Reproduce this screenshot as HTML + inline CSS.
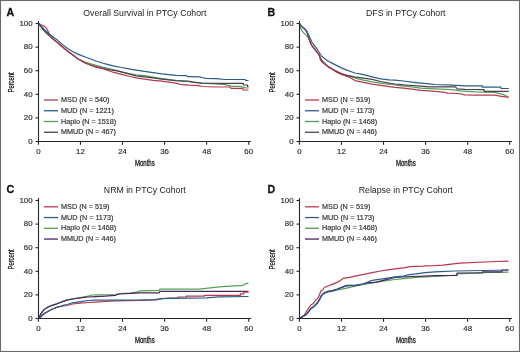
<!DOCTYPE html>
<html><head><meta charset="utf-8"><style>
html,body{margin:0;padding:0;background:#fff;}
svg{display:block;font-family:"Liberation Sans", sans-serif;will-change:transform;}
</style></head><body>
<svg width="520" height="352" viewBox="0 0 520 352">
<rect x="0" y="0" width="520" height="352" fill="#fff"/>
<text x="6.5" y="15.6" font-size="10.6" font-weight="bold" fill="#111" stroke="#111" stroke-width="0.3">A</text>
<text x="144.8" y="15.8" font-size="8.72" text-anchor="middle" fill="#222">Overall Survival in PTCy Cohort</text>
<path d="M38.40,23.40L43.80,30.40L47.20,33.80L50.60,36.60L54.00,39.60L57.40,42.40L60.30,45.00L64.50,48.60L68.80,52.00L73.00,55.00L77.30,58.20L81.60,60.50L85.80,62.20L90.00,63.60L96.00,65.40L104.50,67.50L113.00,69.70L121.60,71.80L130.10,73.90L136.00,74.80L144.50,75.70L157.30,77.80L165.90,79.10L176.00,80.50L188.80,81.40L193.00,82.20L201.60,83.10L216.00,83.90L225.00,84.60L232.00,86.30L240.00,86.30L246.00,88.00L248.50,88.00" fill="none" stroke="#52a052" stroke-width="1.2" stroke-linejoin="round"/>
<path d="M38.40,23.40L43.80,30.40L47.20,33.80L50.60,36.60L54.00,39.60L57.40,42.40L60.30,45.00L64.50,48.60L68.80,52.00L73.00,55.00L77.30,58.40L81.60,61.00L85.80,63.20L90.00,64.80L96.00,66.70L108.80,69.70L117.30,70.90L125.90,73.10L136.00,75.80L148.80,77.40L161.60,79.10L176.00,80.60L188.80,81.40L193.00,82.20L201.60,83.10L216.00,83.30L243.40,83.30L243.40,85.00L247.50,85.00L247.50,86.70L248.50,86.70" fill="none" stroke="#4a4052" stroke-width="1.2" stroke-linejoin="round"/>
<path d="M38.40,23.40L41.10,24.70L43.80,26.10L45.90,27.50L47.20,29.50L48.20,31.50L50.60,37.00L54.00,40.10L57.40,42.80L60.30,45.20L64.50,48.80L68.80,52.20L73.00,55.20L77.30,58.60L81.60,61.10L85.80,63.30L90.00,65.00L96.00,67.10L104.50,69.20L113.00,72.20L121.60,74.30L130.10,76.50L136.00,77.80L144.50,79.10L153.10,80.30L161.60,81.20L176.00,83.20L180.30,84.30L188.80,85.20L199.00,85.60L201.60,86.50L216.00,87.00L230.00,87.00L231.00,88.40L243.00,88.40L243.00,90.00L248.50,90.00" fill="none" stroke="#b5384f" stroke-width="1.2" stroke-linejoin="round"/>
<path d="M38.40,23.40L43.80,28.80L47.20,32.20L50.60,35.00L54.00,37.70L57.40,40.10L60.30,42.60L64.50,46.20L68.80,49.20L73.00,51.80L77.30,53.90L81.60,55.60L85.80,57.30L90.00,58.80L96.00,61.00L104.50,63.70L113.00,65.80L121.60,67.50L130.10,69.20L136.00,70.10L144.50,71.40L153.10,72.70L161.60,73.90L176.00,75.40L186.20,75.60L188.00,76.70L199.90,76.90L201.60,77.50L205.90,78.40L216.00,78.60L225.00,79.50L245.40,79.50L245.40,80.50L248.50,80.50" fill="none" stroke="#2b5c88" stroke-width="1.2" stroke-linejoin="round"/>
<path d="M38.5,20.9V141.5H251" stroke="#262626" stroke-width="1.1" fill="none"/>
<path d="M35.5,141.50H38.5" stroke="#262626" stroke-width="1.1" fill="none"/>
<text transform="translate(32.6,143.70) scale(1.08,1)" font-size="7.3" text-anchor="end" fill="#333" stroke="#333" stroke-width="0.18">0</text>
<path d="M35.5,117.90H38.5" stroke="#262626" stroke-width="1.1" fill="none"/>
<text transform="translate(32.6,120.10) scale(1.08,1)" font-size="7.3" text-anchor="end" fill="#333" stroke="#333" stroke-width="0.18">20</text>
<path d="M35.5,94.30H38.5" stroke="#262626" stroke-width="1.1" fill="none"/>
<text transform="translate(32.6,96.50) scale(1.08,1)" font-size="7.3" text-anchor="end" fill="#333" stroke="#333" stroke-width="0.18">40</text>
<path d="M35.5,70.70H38.5" stroke="#262626" stroke-width="1.1" fill="none"/>
<text transform="translate(32.6,72.90) scale(1.08,1)" font-size="7.3" text-anchor="end" fill="#333" stroke="#333" stroke-width="0.18">60</text>
<path d="M35.5,47.10H38.5" stroke="#262626" stroke-width="1.1" fill="none"/>
<text transform="translate(32.6,49.30) scale(1.08,1)" font-size="7.3" text-anchor="end" fill="#333" stroke="#333" stroke-width="0.18">80</text>
<path d="M35.5,23.50H38.5" stroke="#262626" stroke-width="1.1" fill="none"/>
<text transform="translate(32.6,25.70) scale(1.08,1)" font-size="7.3" text-anchor="end" fill="#333" stroke="#333" stroke-width="0.18">100</text>
<path d="M38.40,141.5V144.8" stroke="#262626" stroke-width="1.1" fill="none"/>
<text transform="translate(38.40,154.1) scale(1.08,1)" font-size="7.3" text-anchor="middle" fill="#333" stroke="#333" stroke-width="0.18">0</text>
<path d="M80.46,141.5V144.8" stroke="#262626" stroke-width="1.1" fill="none"/>
<text transform="translate(80.46,154.1) scale(1.08,1)" font-size="7.3" text-anchor="middle" fill="#333" stroke="#333" stroke-width="0.18">12</text>
<path d="M122.52,141.5V144.8" stroke="#262626" stroke-width="1.1" fill="none"/>
<text transform="translate(122.52,154.1) scale(1.08,1)" font-size="7.3" text-anchor="middle" fill="#333" stroke="#333" stroke-width="0.18">24</text>
<path d="M164.58,141.5V144.8" stroke="#262626" stroke-width="1.1" fill="none"/>
<text transform="translate(164.58,154.1) scale(1.08,1)" font-size="7.3" text-anchor="middle" fill="#333" stroke="#333" stroke-width="0.18">36</text>
<path d="M206.64,141.5V144.8" stroke="#262626" stroke-width="1.1" fill="none"/>
<text transform="translate(206.64,154.1) scale(1.08,1)" font-size="7.3" text-anchor="middle" fill="#333" stroke="#333" stroke-width="0.18">48</text>
<path d="M248.70,141.5V144.8" stroke="#262626" stroke-width="1.1" fill="none"/>
<text transform="translate(248.70,154.1) scale(1.08,1)" font-size="7.3" text-anchor="middle" fill="#333" stroke="#333" stroke-width="0.18">60</text>
<text transform="translate(144.8,166.25) scale(0.72,1)" font-size="8.4" text-anchor="middle" fill="#1e1e1e" stroke="#1e1e1e" stroke-width="0.32">Months</text>
<text transform="translate(14.3,82.4) rotate(-90) scale(0.71,1)" font-size="8.3" text-anchor="middle" fill="#1e1e1e" stroke="#1e1e1e" stroke-width="0.28">Percent</text>
<path d="M44,100.00H58" stroke="#b5384f" stroke-width="1.3"/>
<text x="61.1" y="102.00" font-size="7.22" fill="#333" stroke="#333" stroke-width="0.18">MSD (N = 540)</text>
<path d="M44,110.75H58" stroke="#2b5c88" stroke-width="1.3"/>
<text x="61.1" y="112.75" font-size="7.22" fill="#333" stroke="#333" stroke-width="0.18">MUD (N = 1221)</text>
<path d="M44,121.50H58" stroke="#52a052" stroke-width="1.3"/>
<text x="61.1" y="123.50" font-size="7.22" fill="#333" stroke="#333" stroke-width="0.18">Haplo (N = 1518)</text>
<path d="M44,132.25H58" stroke="#4a4052" stroke-width="1.3"/>
<text x="61.1" y="134.25" font-size="7.22" fill="#333" stroke="#333" stroke-width="0.18">MMUD (N = 467)</text>
<text x="267.5" y="15.6" font-size="10.6" font-weight="bold" fill="#111" stroke="#111" stroke-width="0.3">B</text>
<text x="405.8" y="15.8" font-size="8.72" text-anchor="middle" fill="#222">DFS in PTCy Cohort</text>
<path d="M299.40,23.50L300.70,28.30L302.10,30.80L303.50,32.80L305.50,34.60L308.20,37.50L310.10,42.00L311.80,45.40L314.40,48.80L316.90,52.20L318.60,54.20L320.50,58.60L324.30,63.30L328.50,66.80L332.80,69.40L337.10,71.80L341.30,73.80L345.60,75.30L354.10,77.30L355.00,78.10L363.50,80.20L372.10,81.90L380.60,83.20L389.10,84.50L395.00,84.80L403.50,86.10L412.10,86.90L420.60,88.20L429.10,88.60L435.00,88.80L452.00,89.70L460.60,90.90L475.00,91.80L494.80,92.30L505.00,95.20L508.50,97.30" fill="none" stroke="#52a052" stroke-width="1.2" stroke-linejoin="round"/>
<path d="M299.40,23.50L301.40,26.30L304.80,29.10L306.90,31.80L308.40,36.90L310.10,42.00L311.80,45.40L314.40,48.80L316.90,52.20L318.60,53.90L319.80,56.50L321.00,59.50L324.30,63.30L328.50,66.60L332.80,69.20L337.10,71.60L341.30,73.60L345.60,74.80L354.10,76.90L363.50,78.10L372.10,79.40L380.60,81.50L389.10,83.20L395.00,84.00L403.50,84.80L412.10,85.50L420.60,86.10L429.10,86.90L435.00,86.90L455.50,86.90L457.20,88.80L465.00,89.40L484.20,89.60L484.20,91.30L508.75,91.30" fill="none" stroke="#4a4052" stroke-width="1.2" stroke-linejoin="round"/>
<path d="M299.40,23.50L301.40,26.30L304.80,29.10L306.90,31.80L308.40,36.90L310.10,42.00L311.80,45.40L314.40,48.80L316.90,52.20L318.60,53.90L319.50,55.60L320.30,59.60L322.00,62.00L324.30,63.90L328.50,67.30L332.80,69.80L337.10,72.40L341.30,74.50L345.60,75.90L349.90,77.50L355.00,80.60L363.50,82.30L372.10,84.10L380.60,85.30L389.10,86.60L395.00,87.40L403.50,88.20L412.10,89.10L420.60,90.30L429.10,90.90L435.00,91.40L443.50,92.20L447.80,93.10L458.90,93.50L464.90,94.80L475.00,95.20L494.80,95.20L500.00,96.20L508.50,97.30" fill="none" stroke="#b5384f" stroke-width="1.2" stroke-linejoin="round"/>
<path d="M299.40,23.50L301.40,26.10L304.80,28.80L306.90,31.50L308.90,35.50L310.30,38.50L311.80,42.00L314.40,45.40L316.90,48.80L319.50,53.00L322.00,56.50L326.30,59.90L330.60,62.40L335.00,64.60L341.30,67.90L345.60,69.60L349.90,71.20L355.00,73.00L363.50,74.70L372.10,76.80L380.60,78.90L389.10,79.80L395.00,80.10L403.50,81.00L412.10,82.20L420.60,83.10L429.10,83.90L435.00,84.50L452.00,85.20L465.00,85.80L482.30,85.80L482.30,87.20L501.00,87.20L501.00,88.50L508.75,88.50" fill="none" stroke="#2b5c88" stroke-width="1.2" stroke-linejoin="round"/>
<path d="M299.5,20.9V141.5H512" stroke="#262626" stroke-width="1.1" fill="none"/>
<path d="M296.5,141.50H299.5" stroke="#262626" stroke-width="1.1" fill="none"/>
<text transform="translate(293.6,143.70) scale(1.08,1)" font-size="7.3" text-anchor="end" fill="#333" stroke="#333" stroke-width="0.18">0</text>
<path d="M296.5,117.90H299.5" stroke="#262626" stroke-width="1.1" fill="none"/>
<text transform="translate(293.6,120.10) scale(1.08,1)" font-size="7.3" text-anchor="end" fill="#333" stroke="#333" stroke-width="0.18">20</text>
<path d="M296.5,94.30H299.5" stroke="#262626" stroke-width="1.1" fill="none"/>
<text transform="translate(293.6,96.50) scale(1.08,1)" font-size="7.3" text-anchor="end" fill="#333" stroke="#333" stroke-width="0.18">40</text>
<path d="M296.5,70.70H299.5" stroke="#262626" stroke-width="1.1" fill="none"/>
<text transform="translate(293.6,72.90) scale(1.08,1)" font-size="7.3" text-anchor="end" fill="#333" stroke="#333" stroke-width="0.18">60</text>
<path d="M296.5,47.10H299.5" stroke="#262626" stroke-width="1.1" fill="none"/>
<text transform="translate(293.6,49.30) scale(1.08,1)" font-size="7.3" text-anchor="end" fill="#333" stroke="#333" stroke-width="0.18">80</text>
<path d="M296.5,23.50H299.5" stroke="#262626" stroke-width="1.1" fill="none"/>
<text transform="translate(293.6,25.70) scale(1.08,1)" font-size="7.3" text-anchor="end" fill="#333" stroke="#333" stroke-width="0.18">100</text>
<path d="M299.40,141.5V144.8" stroke="#262626" stroke-width="1.1" fill="none"/>
<text transform="translate(299.40,154.1) scale(1.08,1)" font-size="7.3" text-anchor="middle" fill="#333" stroke="#333" stroke-width="0.18">0</text>
<path d="M341.46,141.5V144.8" stroke="#262626" stroke-width="1.1" fill="none"/>
<text transform="translate(341.46,154.1) scale(1.08,1)" font-size="7.3" text-anchor="middle" fill="#333" stroke="#333" stroke-width="0.18">12</text>
<path d="M383.52,141.5V144.8" stroke="#262626" stroke-width="1.1" fill="none"/>
<text transform="translate(383.52,154.1) scale(1.08,1)" font-size="7.3" text-anchor="middle" fill="#333" stroke="#333" stroke-width="0.18">24</text>
<path d="M425.58,141.5V144.8" stroke="#262626" stroke-width="1.1" fill="none"/>
<text transform="translate(425.58,154.1) scale(1.08,1)" font-size="7.3" text-anchor="middle" fill="#333" stroke="#333" stroke-width="0.18">36</text>
<path d="M467.64,141.5V144.8" stroke="#262626" stroke-width="1.1" fill="none"/>
<text transform="translate(467.64,154.1) scale(1.08,1)" font-size="7.3" text-anchor="middle" fill="#333" stroke="#333" stroke-width="0.18">48</text>
<path d="M509.70,141.5V144.8" stroke="#262626" stroke-width="1.1" fill="none"/>
<text transform="translate(509.70,154.1) scale(1.08,1)" font-size="7.3" text-anchor="middle" fill="#333" stroke="#333" stroke-width="0.18">60</text>
<text transform="translate(405.8,166.25) scale(0.72,1)" font-size="8.4" text-anchor="middle" fill="#1e1e1e" stroke="#1e1e1e" stroke-width="0.32">Months</text>
<text transform="translate(275.3,82.4) rotate(-90) scale(0.71,1)" font-size="8.3" text-anchor="middle" fill="#1e1e1e" stroke="#1e1e1e" stroke-width="0.28">Percent</text>
<path d="M305,100.00H319" stroke="#b5384f" stroke-width="1.3"/>
<text x="322.1" y="102.00" font-size="7.22" fill="#333" stroke="#333" stroke-width="0.18">MSD (N = 519)</text>
<path d="M305,110.75H319" stroke="#2b5c88" stroke-width="1.3"/>
<text x="322.1" y="112.75" font-size="7.22" fill="#333" stroke="#333" stroke-width="0.18">MUD (N = 1173)</text>
<path d="M305,121.50H319" stroke="#52a052" stroke-width="1.3"/>
<text x="322.1" y="123.50" font-size="7.22" fill="#333" stroke="#333" stroke-width="0.18">Haplo (N = 1468)</text>
<path d="M305,132.25H319" stroke="#4a4052" stroke-width="1.3"/>
<text x="322.1" y="134.25" font-size="7.22" fill="#333" stroke="#333" stroke-width="0.18">MMUD (N = 446)</text>
<text x="6.5" y="192.6" font-size="10.6" font-weight="bold" fill="#111" stroke="#111" stroke-width="0.3">C</text>
<text x="144.8" y="192.8" font-size="8.72" text-anchor="middle" fill="#222">NRM in PTCy Cohort</text>
<path d="M38.50,318.30L39.40,316.70L41.00,313.50L43.40,310.30L46.50,307.90L49.70,306.30L52.90,305.10L56.90,303.70L60.90,302.10L64.00,300.90L67.00,299.90L72.70,298.90L80.40,297.70L88.10,296.20L91.90,295.00L95.80,294.80L115.40,294.60L119.20,293.70L130.80,293.00L138.50,291.60L140.00,290.80L159.20,290.40L160.00,289.20L199.40,289.20L219.00,286.80L230.40,286.10L243.50,285.30L245.80,283.50L248.50,283.20" fill="none" stroke="#52a052" stroke-width="1.2" stroke-linejoin="round"/>
<path d="M38.50,318.30L39.40,316.70L41.00,313.50L43.40,310.30L46.50,307.90L49.70,306.30L52.90,305.10L56.90,303.90L60.90,302.30L64.00,301.10L67.00,300.10L72.70,299.00L80.40,297.80L88.10,297.00L95.80,296.60L105.00,296.20L115.40,295.30L119.20,294.00L130.80,293.30L140.00,292.80L159.20,292.80L160.00,291.40L248.50,291.40" fill="none" stroke="#4a2660" stroke-width="1.2" stroke-linejoin="round"/>
<path d="M38.50,318.30L40.20,317.80L41.80,316.00L43.50,314.50L45.00,313.60L48.90,311.00L52.90,309.00L56.90,307.50L60.90,306.50L67.00,305.50L72.70,304.00L80.40,303.20L88.10,302.50L95.80,302.10L105.00,301.50L115.40,300.80L140.00,300.40L155.40,299.80L161.50,298.80L170.00,298.00L178.20,298.00L178.20,297.00L186.30,297.00L186.30,296.20L204.30,296.20L204.30,295.30L240.40,295.30L240.40,293.80L243.80,293.80L243.80,292.20L248.50,292.20" fill="none" stroke="#b5384f" stroke-width="1.2" stroke-linejoin="round"/>
<path d="M38.50,318.30L40.20,317.50L41.80,315.10L45.00,313.10L48.90,310.70L52.90,308.70L56.90,307.10L60.90,306.10L64.00,305.20L67.00,304.50L72.70,302.80L80.40,301.70L88.10,300.50L95.80,300.20L123.10,300.10L140.00,300.00L155.40,299.60L161.50,298.50L170.00,298.30L206.00,297.90L219.00,296.80L248.50,296.50" fill="none" stroke="#2b5c88" stroke-width="1.2" stroke-linejoin="round"/>
<path d="M38.5,197.9V318.5H251" stroke="#262626" stroke-width="1.1" fill="none"/>
<path d="M35.5,318.50H38.5" stroke="#262626" stroke-width="1.1" fill="none"/>
<text transform="translate(32.6,320.70) scale(1.08,1)" font-size="7.3" text-anchor="end" fill="#333" stroke="#333" stroke-width="0.18">0</text>
<path d="M35.5,294.90H38.5" stroke="#262626" stroke-width="1.1" fill="none"/>
<text transform="translate(32.6,297.10) scale(1.08,1)" font-size="7.3" text-anchor="end" fill="#333" stroke="#333" stroke-width="0.18">20</text>
<path d="M35.5,271.30H38.5" stroke="#262626" stroke-width="1.1" fill="none"/>
<text transform="translate(32.6,273.50) scale(1.08,1)" font-size="7.3" text-anchor="end" fill="#333" stroke="#333" stroke-width="0.18">40</text>
<path d="M35.5,247.70H38.5" stroke="#262626" stroke-width="1.1" fill="none"/>
<text transform="translate(32.6,249.90) scale(1.08,1)" font-size="7.3" text-anchor="end" fill="#333" stroke="#333" stroke-width="0.18">60</text>
<path d="M35.5,224.10H38.5" stroke="#262626" stroke-width="1.1" fill="none"/>
<text transform="translate(32.6,226.30) scale(1.08,1)" font-size="7.3" text-anchor="end" fill="#333" stroke="#333" stroke-width="0.18">80</text>
<path d="M35.5,200.50H38.5" stroke="#262626" stroke-width="1.1" fill="none"/>
<text transform="translate(32.6,202.70) scale(1.08,1)" font-size="7.3" text-anchor="end" fill="#333" stroke="#333" stroke-width="0.18">100</text>
<path d="M38.40,318.5V321.8" stroke="#262626" stroke-width="1.1" fill="none"/>
<text transform="translate(38.40,331.1) scale(1.08,1)" font-size="7.3" text-anchor="middle" fill="#333" stroke="#333" stroke-width="0.18">0</text>
<path d="M80.46,318.5V321.8" stroke="#262626" stroke-width="1.1" fill="none"/>
<text transform="translate(80.46,331.1) scale(1.08,1)" font-size="7.3" text-anchor="middle" fill="#333" stroke="#333" stroke-width="0.18">12</text>
<path d="M122.52,318.5V321.8" stroke="#262626" stroke-width="1.1" fill="none"/>
<text transform="translate(122.52,331.1) scale(1.08,1)" font-size="7.3" text-anchor="middle" fill="#333" stroke="#333" stroke-width="0.18">24</text>
<path d="M164.58,318.5V321.8" stroke="#262626" stroke-width="1.1" fill="none"/>
<text transform="translate(164.58,331.1) scale(1.08,1)" font-size="7.3" text-anchor="middle" fill="#333" stroke="#333" stroke-width="0.18">36</text>
<path d="M206.64,318.5V321.8" stroke="#262626" stroke-width="1.1" fill="none"/>
<text transform="translate(206.64,331.1) scale(1.08,1)" font-size="7.3" text-anchor="middle" fill="#333" stroke="#333" stroke-width="0.18">48</text>
<path d="M248.70,318.5V321.8" stroke="#262626" stroke-width="1.1" fill="none"/>
<text transform="translate(248.70,331.1) scale(1.08,1)" font-size="7.3" text-anchor="middle" fill="#333" stroke="#333" stroke-width="0.18">60</text>
<text transform="translate(144.8,343.25) scale(0.72,1)" font-size="8.4" text-anchor="middle" fill="#1e1e1e" stroke="#1e1e1e" stroke-width="0.32">Months</text>
<text transform="translate(14.3,259.4) rotate(-90) scale(0.71,1)" font-size="8.3" text-anchor="middle" fill="#1e1e1e" stroke="#1e1e1e" stroke-width="0.28">Percent</text>
<path d="M44,206.80H58" stroke="#b5384f" stroke-width="1.3"/>
<text x="61.1" y="208.80" font-size="7.22" fill="#333" stroke="#333" stroke-width="0.18">MSD (N = 519)</text>
<path d="M44,217.55H58" stroke="#2b5c88" stroke-width="1.3"/>
<text x="61.1" y="219.55" font-size="7.22" fill="#333" stroke="#333" stroke-width="0.18">MUD (N = 1173)</text>
<path d="M44,228.30H58" stroke="#52a052" stroke-width="1.3"/>
<text x="61.1" y="230.30" font-size="7.22" fill="#333" stroke="#333" stroke-width="0.18">Haplo (N = 1468)</text>
<path d="M44,239.05H58" stroke="#4a2660" stroke-width="1.3"/>
<text x="61.1" y="241.05" font-size="7.22" fill="#333" stroke="#333" stroke-width="0.18">MMUD (N = 446)</text>
<text x="267.5" y="192.6" font-size="10.6" font-weight="bold" fill="#111" stroke="#111" stroke-width="0.3">D</text>
<text x="405.8" y="192.8" font-size="8.72" text-anchor="middle" fill="#222">Relapse in PTCy Cohort</text>
<path d="M299.50,318.30L302.10,317.10L303.80,315.90L305.50,315.40L308.10,312.60L310.60,309.20L314.00,306.60L317.50,303.20L320.00,299.00L321.70,295.60L324.30,293.50L328.50,292.00L332.80,291.20L337.10,290.00L345.60,288.30L355.00,286.10L363.50,284.50L372.10,283.00L383.20,281.20L395.00,279.50L403.50,278.60L416.30,277.30L435.00,276.50L457.00,275.00L457.00,273.80L482.00,272.60L508.50,272.20" fill="none" stroke="#52a052" stroke-width="1.2" stroke-linejoin="round"/>
<path d="M299.50,318.30L302.10,316.90L303.80,315.60L305.50,315.10L308.10,312.20L310.60,308.80L314.00,306.20L317.50,302.80L320.00,298.50L321.70,295.10L324.30,293.00L328.50,291.50L332.80,290.70L337.10,289.50L341.30,287.80L345.60,286.20L349.90,285.60L355.00,285.60L363.50,284.00L367.80,282.90L376.30,282.10L383.20,280.30L395.00,277.30L403.50,276.90L412.10,276.50L424.90,276.10L435.00,275.60L457.00,275.40L457.00,273.00L482.30,273.00L482.30,271.80L501.90,271.80L501.90,270.00L508.50,270.00" fill="none" stroke="#4a2660" stroke-width="1.2" stroke-linejoin="round"/>
<path d="M299.50,318.30L302.10,316.90L303.80,315.60L305.50,313.00L308.10,308.80L310.60,305.30L313.20,303.60L315.80,300.20L318.30,297.70L319.60,294.30L320.90,290.90L322.60,290.00L324.30,287.50L328.50,285.80L332.80,284.10L337.10,282.40L341.30,279.80L343.90,278.10L349.90,277.30L355.00,276.10L363.50,274.40L372.10,272.70L380.60,271.00L389.10,269.70L395.00,268.80L403.50,267.90L410.40,266.70L423.20,266.20L424.90,265.80L435.00,265.60L443.00,265.10L459.40,263.20L495.40,261.50L508.50,261.20" fill="none" stroke="#b5384f" stroke-width="1.2" stroke-linejoin="round"/>
<path d="M299.50,318.30L302.10,316.90L303.80,315.60L305.50,315.10L308.10,312.20L310.60,308.80L314.00,306.20L317.50,302.80L320.00,298.50L321.70,295.10L324.30,292.60L328.50,291.10L332.80,290.30L337.10,289.00L341.30,287.30L345.60,285.60L349.90,285.20L355.00,285.30L363.50,283.80L367.80,282.10L372.10,280.30L380.60,279.10L389.10,277.80L395.00,276.90L403.50,276.10L407.80,274.80L416.30,273.90L424.90,272.60L435.00,271.80L454.50,271.00L483.90,270.50L508.50,270.00" fill="none" stroke="#2b5c88" stroke-width="1.2" stroke-linejoin="round"/>
<path d="M299.5,197.9V318.5H512" stroke="#262626" stroke-width="1.1" fill="none"/>
<path d="M296.5,318.50H299.5" stroke="#262626" stroke-width="1.1" fill="none"/>
<text transform="translate(293.6,320.70) scale(1.08,1)" font-size="7.3" text-anchor="end" fill="#333" stroke="#333" stroke-width="0.18">0</text>
<path d="M296.5,294.90H299.5" stroke="#262626" stroke-width="1.1" fill="none"/>
<text transform="translate(293.6,297.10) scale(1.08,1)" font-size="7.3" text-anchor="end" fill="#333" stroke="#333" stroke-width="0.18">20</text>
<path d="M296.5,271.30H299.5" stroke="#262626" stroke-width="1.1" fill="none"/>
<text transform="translate(293.6,273.50) scale(1.08,1)" font-size="7.3" text-anchor="end" fill="#333" stroke="#333" stroke-width="0.18">40</text>
<path d="M296.5,247.70H299.5" stroke="#262626" stroke-width="1.1" fill="none"/>
<text transform="translate(293.6,249.90) scale(1.08,1)" font-size="7.3" text-anchor="end" fill="#333" stroke="#333" stroke-width="0.18">60</text>
<path d="M296.5,224.10H299.5" stroke="#262626" stroke-width="1.1" fill="none"/>
<text transform="translate(293.6,226.30) scale(1.08,1)" font-size="7.3" text-anchor="end" fill="#333" stroke="#333" stroke-width="0.18">80</text>
<path d="M296.5,200.50H299.5" stroke="#262626" stroke-width="1.1" fill="none"/>
<text transform="translate(293.6,202.70) scale(1.08,1)" font-size="7.3" text-anchor="end" fill="#333" stroke="#333" stroke-width="0.18">100</text>
<path d="M299.40,318.5V321.8" stroke="#262626" stroke-width="1.1" fill="none"/>
<text transform="translate(299.40,331.1) scale(1.08,1)" font-size="7.3" text-anchor="middle" fill="#333" stroke="#333" stroke-width="0.18">0</text>
<path d="M341.46,318.5V321.8" stroke="#262626" stroke-width="1.1" fill="none"/>
<text transform="translate(341.46,331.1) scale(1.08,1)" font-size="7.3" text-anchor="middle" fill="#333" stroke="#333" stroke-width="0.18">12</text>
<path d="M383.52,318.5V321.8" stroke="#262626" stroke-width="1.1" fill="none"/>
<text transform="translate(383.52,331.1) scale(1.08,1)" font-size="7.3" text-anchor="middle" fill="#333" stroke="#333" stroke-width="0.18">24</text>
<path d="M425.58,318.5V321.8" stroke="#262626" stroke-width="1.1" fill="none"/>
<text transform="translate(425.58,331.1) scale(1.08,1)" font-size="7.3" text-anchor="middle" fill="#333" stroke="#333" stroke-width="0.18">36</text>
<path d="M467.64,318.5V321.8" stroke="#262626" stroke-width="1.1" fill="none"/>
<text transform="translate(467.64,331.1) scale(1.08,1)" font-size="7.3" text-anchor="middle" fill="#333" stroke="#333" stroke-width="0.18">48</text>
<path d="M509.70,318.5V321.8" stroke="#262626" stroke-width="1.1" fill="none"/>
<text transform="translate(509.70,331.1) scale(1.08,1)" font-size="7.3" text-anchor="middle" fill="#333" stroke="#333" stroke-width="0.18">60</text>
<text transform="translate(405.8,343.25) scale(0.72,1)" font-size="8.4" text-anchor="middle" fill="#1e1e1e" stroke="#1e1e1e" stroke-width="0.32">Months</text>
<text transform="translate(275.3,259.4) rotate(-90) scale(0.71,1)" font-size="8.3" text-anchor="middle" fill="#1e1e1e" stroke="#1e1e1e" stroke-width="0.28">Percent</text>
<path d="M305,206.80H319" stroke="#b5384f" stroke-width="1.3"/>
<text x="322.1" y="208.80" font-size="7.22" fill="#333" stroke="#333" stroke-width="0.18">MSD (N = 519)</text>
<path d="M305,217.55H319" stroke="#2b5c88" stroke-width="1.3"/>
<text x="322.1" y="219.55" font-size="7.22" fill="#333" stroke="#333" stroke-width="0.18">MUD (N = 1173)</text>
<path d="M305,228.30H319" stroke="#52a052" stroke-width="1.3"/>
<text x="322.1" y="230.30" font-size="7.22" fill="#333" stroke="#333" stroke-width="0.18">Haplo (N = 1468)</text>
<path d="M305,239.05H319" stroke="#4a2660" stroke-width="1.3"/>
<text x="322.1" y="241.05" font-size="7.22" fill="#333" stroke="#333" stroke-width="0.18">MMUD (N = 446)</text>
<rect x="0.5" y="0.5" width="519" height="351" fill="none" stroke="#6a6a6a" stroke-width="1.1"/>
</svg>
</body></html>
